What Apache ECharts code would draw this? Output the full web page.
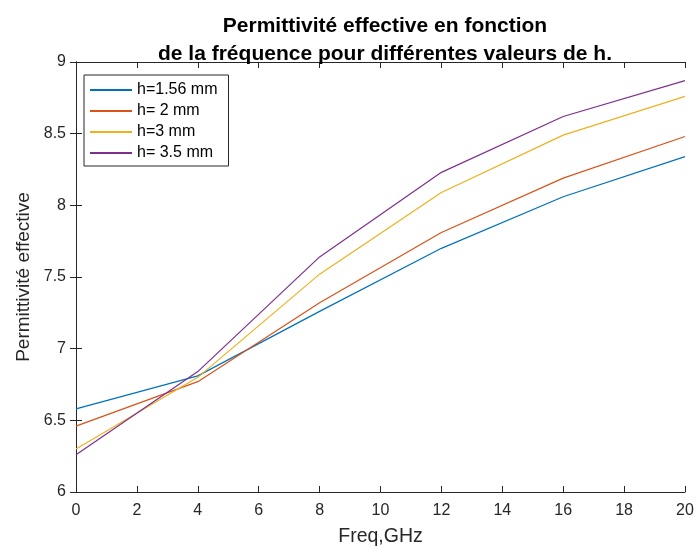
<!DOCTYPE html>
<html>
<head>
<meta charset="utf-8" />
<title>Permittivité effective</title>
<script src="https://cdn.jsdelivr.net/npm/echarts@6/dist/echarts.min.js"></script>
<style>
  html, body { margin: 0; padding: 0; background: #fff; }
  #chart { width: 696px; height: 547px; }
</style>
</head>
<body>
<div id="chart"></div>
<script>
// frequences (GHz)
var freq = [0, 4, 8, 12, 16, 20];
// permittivite effective pour chaque h
var h156 = [6.58, 6.81, 7.26, 7.70, 8.06, 8.34];
var h2 = [6.46, 6.77, 7.32, 7.81, 8.19, 8.48];
var h3 = [6.30, 6.80, 7.52, 8.09, 8.49, 8.76];
var h35 = [6.26, 6.84, 7.64, 8.23, 8.62, 8.87];

var names = ["h=1.56 mm", "h= 2 mm", "h=3 mm", "h= 3.5 mm"];
var colors = ["#0072BD", "#D95319", "#EDB120", "#7E2F8E"];
var values = [h156, h2, h3, h35];

var font = "Liberation Sans, Arial, sans-serif";

function pairs(ys) {
  return freq.map(function (x, i) { return [x, ys[i]]; });
}

var chart = echarts.init(document.getElementById("chart"));

var axisLine = { show: true, lineStyle: { color: "#262626", width: 1 } };
var tick = { show: true, inside: true, length: 6, lineStyle: { color: "#262626" } };

var option = {
  animation: false,
  title: {
    text: "Permittivité effective en fonction\nde la fréquence pour différentes valeurs de h.",
    left: 380,
    textAlign: "center",
    top: 7,
    textStyle: { fontFamily: font, fontSize: 21, fontWeight: "bold", color: "#000", lineHeight: 28 }
  },
  grid: { left: 76, right: 11, top: 62, bottom: 55, outerBoundsMode: "none", containLabel: false },
  legend: {
    orient: "vertical",
    left: 84,
    top: 75,
    padding: [7, 11, 5, 6],
    itemGap: 5,
    itemWidth: 42,
    itemHeight: 2,
    icon: "rect",
    borderColor: "#262626",
    borderWidth: 1,
    borderRadius: 0,
    backgroundColor: "#fff",
    textStyle: { fontFamily: font, fontSize: 16, color: "#000", lineHeight: 16 },
    data: names
  },
  xAxis: [
    {
      type: "value",
      min: 0, max: 20, interval: 2,
      name: "Freq,GHz",
      nameLocation: "middle",
      nameGap: 35,
      nameTextStyle: { fontFamily: font, fontSize: 19.5, color: "#262626" },
      axisLine: axisLine,
      axisTick: tick,
      axisLabel: { fontFamily: font, fontSize: 16, color: "#262626", margin: 11 },
      splitLine: { show: false }
    },
    {
      type: "value", position: "top",
      min: 0, max: 20, interval: 2,
      axisLine: axisLine, axisTick: tick,
      axisLabel: { show: false }, splitLine: { show: false }
    }
  ],
  yAxis: [
    {
      type: "value",
      min: 6, max: 9, interval: 0.5,
      name: "Permittivité effective",
      nameLocation: "middle",
      nameGap: 42,
      nameTextStyle: { fontFamily: font, fontSize: 19, color: "#262626" },
      axisLine: axisLine,
      axisTick: tick,
      axisLabel: { fontFamily: font, fontSize: 16, color: "#262626", margin: 10 },
      splitLine: { show: false }
    },
    {
      type: "value", position: "right",
      min: 6, max: 9, interval: 0.5,
      axisLine: axisLine, axisTick: tick,
      axisLabel: { show: false }, splitLine: { show: false }
    }
  ],
  series: values.map(function (ys, i) {
    return {
      name: names[i],
      type: "line",
      data: pairs(ys),
      symbol: "none",
      color: colors[i],
      lineStyle: { width: 1.2, color: colors[i] }
    };
  })
};

chart.setOption(option);
</script>
</body>
</html>
